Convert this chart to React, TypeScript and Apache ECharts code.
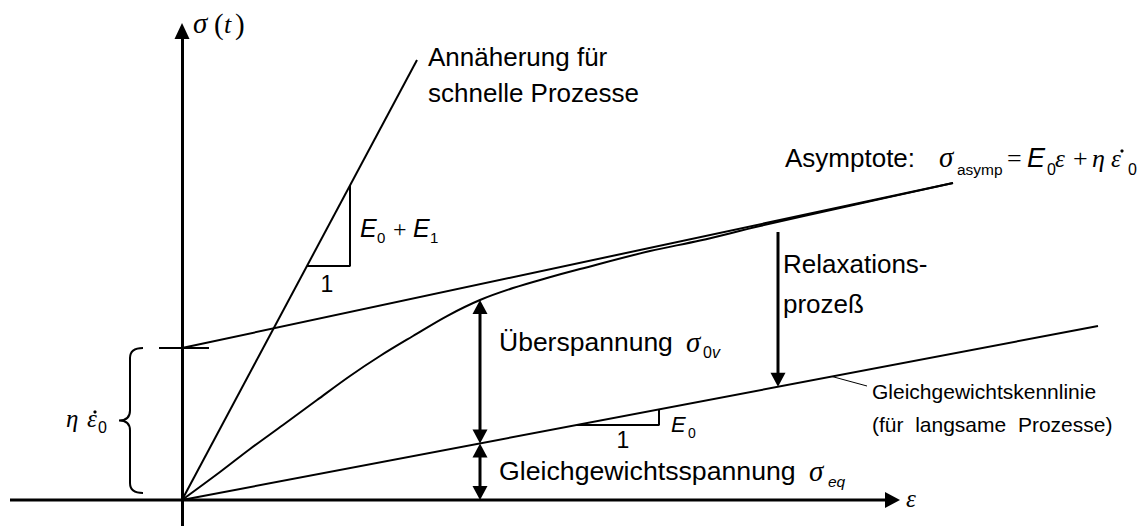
import { useEffect, useRef } from "react";
import * as echarts from "echarts";

// Stress response under constant strain rate (standard linear solid)
const strain = [0, 0.38, 0.68, 1.01, 1.35, 1.68, 1.98, 2.31, 2.65, 2.98, 3.31, 3.65, 3.98, 4.68, 5.18, 5.78, 6.68, 7.71];
const stress = [0, 0.368, 0.671, 0.987, 1.316, 1.632, 1.895, 2.158, 2.421, 2.632, 2.789, 2.921, 3.039, 3.276, 3.414, 3.605, 3.871, 4.171];

// Straight reference lines [ε, σ]
const fastLine = [[0, 0], [2.35, 5.79]];
const asymptoteLine = [[0, 2.0], [7.71, 4.171]];
const equilibriumLine = [[0, 0], [9.16, 2.29]];

// Slope triangles
const fastTriangle = [[1.25, 3.08], [1.68, 3.08], [1.68, 4.14]];
const eqTriangle = [[3.95, 0.9875], [4.77, 0.9875], [4.77, 1.1925]];

// Intercept tick η·ε̇0 and leader line to the equilibrium label
const interceptTick = [[-0.23, 2.0], [0.27, 2.0]];
const leaderLine = [[6.5, 1.625], [6.85, 1.5]];

// Strain axis: [ε start, σ, ε end, σ, head at start, head at end]
const strainAxis = [[-1.72, 0, 7.18, 0, 0, 1]];

// Annotation arrows: [ε1, σ1, ε2, σ2, head at start, head at end]
const overstressIdx = 9;
const eqAt = (e: number) => (equilibriumLine[1][1] / equilibriumLine[1][0]) * e;
const eOver = strain[overstressIdx];
const relaxStrain = 5.96;
const relaxTop = 3.526;
const arrows = [
  [eOver, stress[overstressIdx], eOver, eqAt(eOver), 1, 1],
  [eOver, eqAt(eOver), eOver, 0, 1, 1],
  [relaxStrain, relaxTop, relaxStrain, eqAt(relaxStrain), 0, 1],
];

// Curly brace spanning η·ε̇0: [ε end, ε spine, ε tip, σ top, σ bottom]
const brace = [[-0.39, -0.52, -0.63, 2.0, 0.092]];

const SANS = "'Liberation Sans', Arial, sans-serif";
const SERIF = "'Liberation Serif', 'Times New Roman', serif";

type TxtOpt = { italic?: boolean; serif?: boolean; align?: string };
function txt(x: number, base: number, text: string, size: number, o: TxtOpt = {}) {
  const fam = o.serif ? SERIF : SANS;
  const align = o.align || "left";
  return {
    type: "text",
    x,
    y: base - 0.345 * size,
    silent: true,
    style: {
      text,
      font: `${o.italic ? "italic " : ""}${size}px ${fam}`,
      fill: "#000",
      align,
      textAlign: align,
      verticalAlign: "middle",
      textVerticalAlign: "middle",
    },
  };
}

function dot(x: number, y: number) {
  return { type: "circle", silent: true, shape: { cx: x, cy: y, r: 1.6 }, style: { fill: "#000" } };
}

function lineSeries(data: number[][], width = 2, smooth: number | boolean = false) {
  return {
    type: "line",
    data,
    symbol: "none",
    smooth,
    clip: false,
    silent: true,
    lineStyle: { color: "#000", width },
  };
}

function arrowSeries(data: number[][], lineWidth: number, L: number, W: number) {
  return {
    type: "custom",
    silent: true,
    clip: false,
    data,
    encode: { x: [0, 2], y: [1, 3] },
    renderItem: (_p: any, api: any) => {
      const a = api.coord([api.value(0), api.value(1)]);
      const b = api.coord([api.value(2), api.value(3)]);
      const headA = api.value(4) > 0;
      const headB = api.value(5) > 0;
      const dx = b[0] - a[0];
      const dy = b[1] - a[1];
      const len = Math.hypot(dx, dy) || 1;
      const ux = dx / len;
      const uy = dy / len;
      const nx = -uy;
      const ny = ux;
      const s = headA ? [a[0] + ux * (L - 1), a[1] + uy * (L - 1)] : a;
      const e = headB ? [b[0] - ux * (L - 1), b[1] - uy * (L - 1)] : b;
      const children: any[] = [
        {
          type: "line",
          shape: { x1: s[0], y1: s[1], x2: e[0], y2: e[1] },
          style: { stroke: "#000", lineWidth },
        },
      ];
      const head = (tip: number[], dir: number) => {
        const bx = tip[0] - dir * ux * L;
        const by = tip[1] - dir * uy * L;
        return {
          type: "polygon",
          shape: {
            points: [
              [tip[0], tip[1]],
              [bx + (nx * W) / 2, by + (ny * W) / 2],
              [bx - (nx * W) / 2, by - (ny * W) / 2],
            ],
          },
          style: { fill: "#000" },
        };
      };
      if (headA) children.push(head(a, -1));
      if (headB) children.push(head(b, 1));
      return { type: "group", children };
    },
  };
}

export default function App() {
  const ref = useRef<HTMLDivElement>(null);

  useEffect(() => {
    if (!ref.current) return;
    const chart = echarts.init(ref.current, null, { renderer: "svg" });

    const curve = strain.map((e, i) => [e, stress[i]]);

    const option: any = {
      animation: false,
      backgroundColor: "#fff",
      grid: { left: 10, top: 31, width: 1120, height: 495 },
      xAxis: {
        type: "value",
        min: -1.72,
        max: 9.48,
        axisLine: { show: false },
        axisTick: { show: false },
        axisLabel: { show: false },
        splitLine: { show: false },
      },
      yAxis: {
        type: "value",
        min: -0.342,
        max: 6.171,
        axisLine: {
          onZero: true,
          symbol: ["none", "triangle"],
          symbolSize: [15, 16],
          lineStyle: { color: "#000", width: 3 },
        },
        axisTick: { show: false },
        axisLabel: { show: false },
        splitLine: { show: false },
      },
      series: [
        arrowSeries(strainAxis, 3, 15, 16),
        lineSeries(fastLine),
        lineSeries(asymptoteLine),
        lineSeries(equilibriumLine),
        lineSeries(curve, 2, 0.35),
        lineSeries(fastTriangle),
        lineSeries(eqTriangle),
        lineSeries(interceptTick),
        lineSeries(leaderLine, 1),
        arrowSeries(arrows, 3, 14, 15),
        {
          type: "custom",
          silent: true,
          data: brace,
          encode: { x: [0, 1, 2], y: [3, 4] },
          renderItem: (_p: any, api: any) => {
            const top = api.coord([api.value(0), api.value(3)]);
            const bot = api.coord([api.value(0), api.value(4)]);
            const xs = api.coord([api.value(1), 0])[0];
            const xt = api.coord([api.value(2), 0])[0];
            const xe = top[0];
            const yt = top[1];
            const yb = bot[1];
            const ym = (yt + yb) / 2;
            const r = 10;
            const d =
              `M${xe} ${yt} Q${xs} ${yt} ${xs} ${yt + r} L${xs} ${ym - r} ` +
              `Q${xs} ${ym} ${xt} ${ym} Q${xs} ${ym} ${xs} ${ym + r} ` +
              `L${xs} ${yb - r} Q${xs} ${yb} ${xe} ${yb}`;
            return {
              type: "path",
              shape: { pathData: d },
              style: { stroke: "#000", fill: "none", lineWidth: 2 },
            };
          },
        },
      ],
      graphic: [
        // axis titles
        txt(193, 33, "σ", 29, { italic: true, serif: true }),
        txt(214, 34, "(", 29, { serif: true }),
        txt(224, 33, "t", 26, { italic: true, serif: true }),
        txt(235, 34, ")", 29, { serif: true }),
        txt(906, 507, "ε", 25, { italic: true, serif: true }),

        // fast process approximation
        txt(428, 66, "Annäherung für", 26),
        txt(428, 102, "schnelle Prozesse", 26),
        txt(360, 237, "E", 25, { italic: true }),
        txt(377, 243, "0", 15),
        txt(393, 237, "+", 24, { serif: true }),
        txt(413, 237, "E", 25, { italic: true }),
        txt(430, 243, "1", 15),
        txt(327, 292, "1", 23, { align: "center" }),

        // asymptote formula
        txt(785, 167, "Asymptote:", 26),
        txt(939, 167, "σ", 29, { italic: true, serif: true }),
        txt(957, 175, "asymp", 15.5),
        txt(1007, 167, "=", 26, { serif: true }),
        txt(1027, 167, "E", 27, { italic: true }),
        txt(1047, 175, "0", 16),
        txt(1055, 167, "ε", 25, { italic: true, serif: true }),
        txt(1073, 167, "+", 26, { serif: true }),
        txt(1092, 167, "η", 26, { italic: true, serif: true }),
        txt(1111, 167, "ε", 25, { italic: true, serif: true }),
        dot(1122, 151),
        txt(1128, 175, "0", 16),

        // relaxation
        txt(783, 273, "Relaxations-", 26),
        txt(783, 313, "prozeß", 26),

        // overstress and equilibrium stress
        txt(499, 351, "Überspannung", 26.5),
        txt(686, 352, "σ", 29, { italic: true, serif: true }),
        txt(703, 358, "0", 16),
        txt(712, 358, "v", 16, { italic: true }),
        txt(499, 480, "Gleichgewichtsspannung", 26.7),
        txt(809, 481, "σ", 29, { italic: true, serif: true }),
        txt(828, 487, "eq", 15.5, { italic: true }),

        // equilibrium characteristic
        txt(872, 399, "Gleichgewichtskennlinie", 21),
        txt(872, 432, "(für \u00a0langsame \u00a0Prozesse)", 21),
        txt(671, 432, "E", 22, { italic: true }),
        txt(688, 438, "0", 14),
        txt(623, 448, "1", 23, { align: "center" }),

        // intercept label
        txt(66, 427, "η", 25, { italic: true, serif: true }),
        txt(87, 427, "ε", 25, { italic: true, serif: true }),
        dot(95, 412),
        txt(98, 433, "0", 16),
      ],
    };

    chart.setOption(option);
    return () => chart.dispose();
  }, []);

  return (
    <div
      ref={ref}
      style={{ position: "absolute", left: 0, top: 0, width: 1146, height: 526, background: "#fff" }}
    />
  );
}
